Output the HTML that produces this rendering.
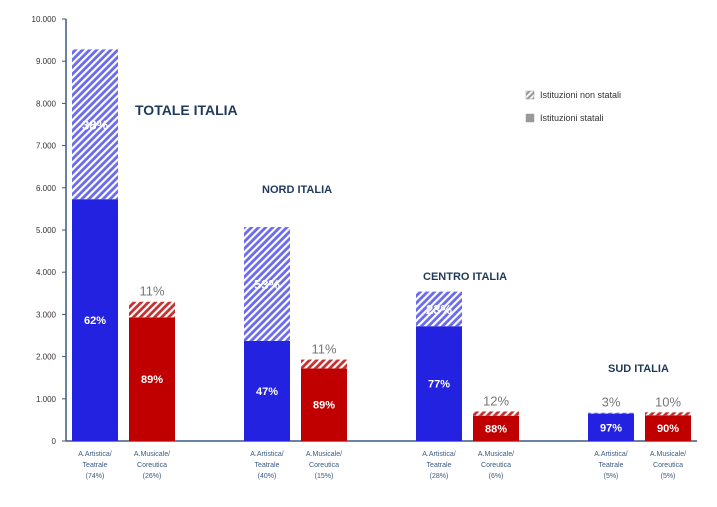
<!DOCTYPE html>
<html><head><meta charset="utf-8"><style>
body{margin:0;background:#fff;width:717px;height:502px;overflow:hidden;font-family:"Liberation Sans",sans-serif}
</style></head><body>
<svg id="c" width="717" height="502">
<defs>
<pattern id="hb" width="5" height="5" patternUnits="userSpaceOnUse" patternTransform="rotate(45)"><rect width="5" height="5" fill="#6a6af0"/><rect width="2.2" height="5" fill="#fff"/></pattern>
<pattern id="hr" width="5" height="5" patternUnits="userSpaceOnUse" patternTransform="rotate(45)"><rect width="5" height="5" fill="#c83030"/><rect width="2.2" height="5" fill="#fff"/></pattern>
<pattern id="hg" width="4" height="4" patternUnits="userSpaceOnUse" patternTransform="rotate(45)"><rect width="4" height="4" fill="#999"/><rect width="1.8" height="4" fill="#fff"/></pattern>
</defs>
</svg>
<script>
const categories=["A.Artistica/|Teatrale|(74%)","A.Musicale/|Coreutica|(26%)","A.Artistica/|Teatrale|(40%)","A.Musicale/|Coreutica|(15%)","A.Artistica/|Teatrale|(28%)","A.Musicale/|Coreutica|(6%)","A.Artistica/|Teatrale|(5%)","A.Musicale/|Coreutica|(5%)"];
const statali=[5730,2930,2370,1720,2720,600,650,610];
const totali=[9280,3300,5070,1930,3540,700,670,680];
const pctStat=["62%","89%","47%","89%","77%","88%","97%","90%"];
const pctNon=["38%","11%","53%","11%","23%","12%","3%","10%"];
const tickVals=[0,1000,2000,3000,4000,5000,6000,7000,8000,9000,10000];
const tickLabels=["0","1.000","2.000","3.000","4.000","5.000","6.000","7.000","8.000","9.000","10.000"];
const groupTitles=["TOTALE ITALIA","NORD ITALIA","CENTRO ITALIA","SUD ITALIA"];
const svg=document.getElementById('c');const NS="http://www.w3.org/2000/svg";
function el(t,a,p){const e=document.createElementNS(NS,t);for(const k in a)e.setAttribute(k,a[k]);(p||svg).appendChild(e);return e;}
const y=v=>441-v*0.0422;
const barX=i=>72+Math.floor(i/2)*172+(i%2)*57;
const bw=46;
let ax=el('line',{x1:66,y1:19,x2:66,y2:441,stroke:'#3a5a80','stroke-width':1.5});


let xa=el('line',{x1:66,y1:441,x2:697,y2:441,stroke:'#3a5a80','stroke-width':1.5});


tickVals.forEach((v,i)=>{
 el('line',{x1:62,y1:y(v),x2:66,y2:y(v),stroke:'#3a5a80'});
 const t=el('text',{x:56,y:y(v)+3,'text-anchor':'end','font-size':8,fill:'#333'});t.textContent=tickLabels[i];
 
 
});
categories.forEach((c,i)=>{
 const x=barX(i),mus=i%2==1;
 const r1=el('rect',{x:x,y:y(statali[i]),width:bw,height:y(0)-y(statali[i]),fill:mus?'#c00000':'#2222e0'});
 
 
 const r2=el('rect',{x:x,y:y(totali[i]),width:bw,height:y(statali[i])-y(totali[i]),fill:mus?'url(#hr)':'url(#hb)'});
 
 
 const ps=el('text',{x:x+bw/2,y:(y(statali[i])+441)/2+4,'text-anchor':'middle','font-size':11,'font-weight':'bold',fill:'#fff'});ps.textContent=pctStat[i];
 
 
 const big=(y(statali[i])-y(totali[i]))>30;
 const pn=el('text',{x:x+bw/2,y:big?(y(statali[i])+y(totali[i]))/2+5:y(totali[i])-6,'text-anchor':'middle','font-size':big?13:13,'font-weight':big?'bold':'normal',fill:big?'#fff':'#777'});pn.textContent=pctNon[i];
 
 
 c.split('|').forEach((l,j)=>{const t=el('text',{x:x+bw/2,y:456+j*11,'text-anchor':'middle','font-size':7,fill:'#3a5a80'});t.textContent=l;
 
 });
});
const tp=[[135,115,14],[262,193,11],[423,280,11],[608,372,11]];
groupTitles.forEach((g,i)=>{const t=el('text',{x:tp[i][0],y:tp[i][1],'font-size':tp[i][2],'font-weight':'bold',fill:'#1f3a5a'});t.textContent=g;
 
 });
[["url(#hg)","Istituzioni non statali",95],["#999","Istituzioni statali",118]].forEach(l=>{
 const g=el('g',{});
 
 
 el('rect',{x:526,y:l[2]-4,width:8,height:8,fill:l[0],stroke:'#999','stroke-width':0.5},g);
 const t=el('text',{x:540,y:l[2]+3,'font-size':9,fill:'#333'},g);t.textContent=l[1];
});
</script>
</body></html>
